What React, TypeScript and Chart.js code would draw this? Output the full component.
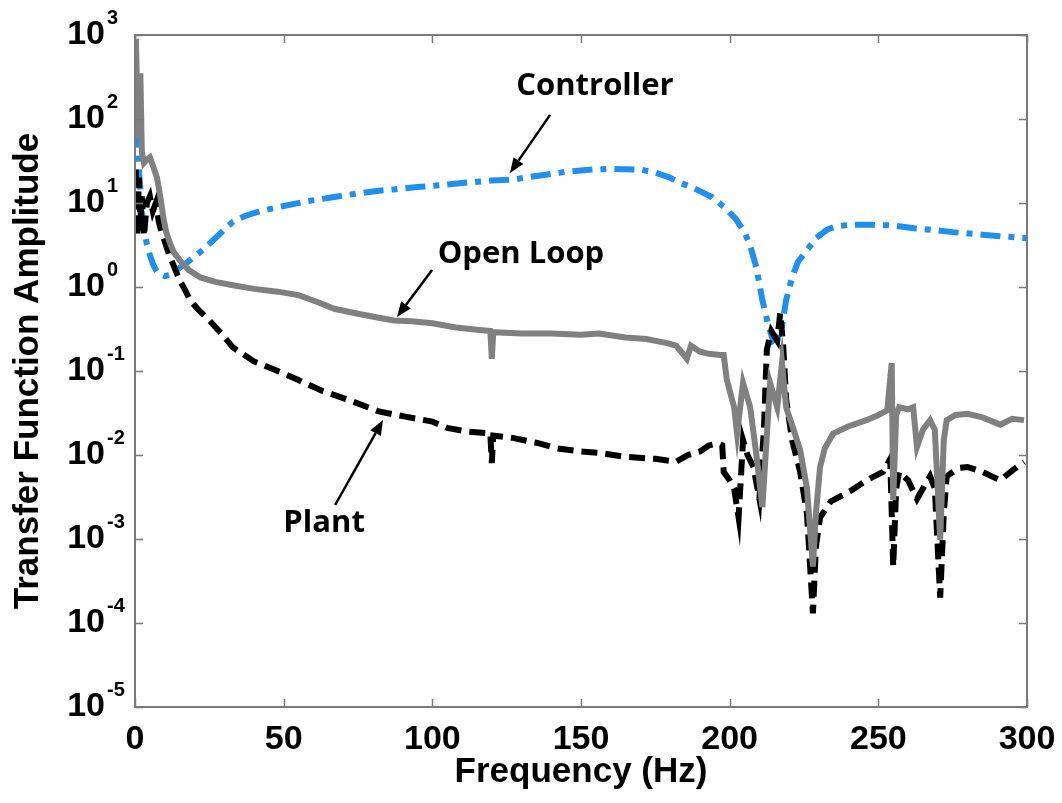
import React, { useEffect, useRef } from 'react';
import { Chart, registerables } from 'chart.js';

Chart.register(...registerables);

// ---------------- data ----------------
const ctrlFreq = [0.3, 0.8, 1.3, 1.8, 2.3, 3, 4, 5, 6, 7, 8, 10, 12, 14, 17, 20, 23, 27, 30, 33, 37, 42, 50, 58, 67, 75, 82, 87, 95, 100, 110, 120, 127, 135, 145, 154, 160, 170, 175, 180, 183, 188, 194, 198, 202, 205, 207, 209, 211, 213, 214.6, 216, 217.6, 219, 221, 223, 226, 229, 232.7, 236, 240.5, 248, 255, 262, 268, 275, 285, 292, 300];
const ctrlAmp = [250, 60, 25, 15, 8, 5, 3.2, 2.4, 1.9, 1.6, 1.45, 1.35, 1.4, 1.6, 1.9, 2.3, 2.8, 3.8, 4.8, 6.0, 7.0, 8.0, 9.2, 10.5, 11.8, 13, 14, 14.5, 15.5, 16, 17.3, 18.5, 19, 21, 23.5, 25, 25.5, 25, 23, 20, 17.6, 15, 11.8, 9, 6.5, 4.5, 3, 1.7, 0.7, 0.35, 0.23, 0.25, 0.34, 0.7, 1.3, 2.0, 2.75, 3.8, 4.8, 5.3, 5.5, 5.5, 5.4, 5.0, 4.8, 4.5, 4.2, 4.0, 3.8];

const openFreq = [0.3, 0.8, 1.3, 1.8, 2.3, 3, 4, 5, 6, 7.4, 8.5, 9.5, 10.5, 11.8, 13, 15, 18, 22, 27, 33, 40, 48, 55, 62, 67, 75, 82, 87, 93, 100, 108, 115, 119.5, 120, 120.5, 130, 140, 150, 156, 165, 172, 179, 182, 185.6, 187, 190, 193, 196.8, 198, 199, 200.5, 201.5, 202.5, 204.5, 206.9, 209, 211, 213.6, 216, 217.6, 219, 221.5, 223.7, 226, 228, 229, 230.4, 232, 234.8, 240, 246, 250, 253, 254.5, 255, 256, 257, 260, 261.7, 263, 265, 267.4, 269, 270.8, 272, 273, 276, 280, 285, 291, 295, 299];
const openAmp = [900, 150, 60, 350, 40, 30, 33, 35, 28, 20, 12, 6.8, 4.5, 3.3, 2.6, 2.1, 1.6, 1.3, 1.15, 1.05, 0.95, 0.88, 0.8, 0.65, 0.55, 0.48, 0.43, 0.4, 0.39, 0.37, 0.33, 0.31, 0.3, 0.14, 0.29, 0.28, 0.28, 0.27, 0.28, 0.25, 0.24, 0.215, 0.2, 0.14, 0.2, 0.17, 0.16, 0.155, 0.155, 0.08, 0.05, 0.037, 0.018, 0.072, 0.037, 0.01, 0.0024, 0.072, 0.037, 0.124, 0.037, 0.02, 0.0115, 0.004, 0.00047, 0.002, 0.0072, 0.012, 0.018, 0.022, 0.026, 0.03, 0.034, 0.124, 0.0029, 0.03, 0.037, 0.035, 0.037, 0.0125, 0.02, 0.026, 0.02, 0.00098, 0.015, 0.026, 0.03, 0.031, 0.028, 0.023, 0.027, 0.026];

const plantFreq = [0.3, 0.8, 1.3, 1.8, 2.3, 3, 4, 5, 6, 7, 8, 9, 10, 11.5, 13, 15, 17, 18.5, 21, 25, 29, 33, 40, 48, 55, 63, 72, 82, 90, 100, 105, 112, 119.5, 120, 120.5, 127, 135, 142, 150, 156, 165, 175, 182, 186, 190, 193, 195.7, 197.5, 198, 200, 201.5, 203, 204.5, 206, 208, 210, 211.5, 212.5, 214, 216, 217, 218, 219, 221, 223.7, 226, 228, 229, 230.4, 234, 240.5, 246, 251.6, 254, 255, 256, 257, 260, 263, 265, 267.4, 269, 270.8, 272, 273, 277, 280, 285, 291, 295, 299];
const plantAmp = [25, 4, 20, 6, 12, 4, 10, 12, 8, 10, 6, 4.4, 3.5, 2.4, 1.8, 1.2, 0.9, 0.7, 0.55, 0.4, 0.28, 0.19, 0.13, 0.1, 0.078, 0.058, 0.045, 0.033, 0.029, 0.025, 0.021, 0.019, 0.018, 0.008, 0.017, 0.016, 0.014, 0.012, 0.011, 0.0106, 0.0095, 0.009, 0.0083, 0.01, 0.011, 0.013, 0.0137, 0.013, 0.0063, 0.005, 0.004, 0.0018, 0.015, 0.01, 0.0072, 0.003, 0.02, 0.18, 0.3, 0.23, 0.49, 0.2, 0.046, 0.015, 0.0063, 0.002, 0.00013, 0.0008, 0.0018, 0.0028, 0.0037, 0.005, 0.0063, 0.009, 0.00047, 0.004, 0.0063, 0.005, 0.003, 0.004, 0.0056, 0.004, 0.0002, 0.002, 0.0056, 0.007, 0.0072, 0.0063, 0.005, 0.0065, 0.0083];

const xTickValues = [0, 50, 100, 150, 200, 250, 300];
const yTickExponents = [3, 2, 1, 0, -1, -2, -3, -4, -5];

// annotation labels and arrows, in data coordinates (Hz, amplitude)
const labelTexts = ['Controller', 'Open Loop', 'Plant'];
const labelFreq = [154.7, 129.8, 63.6];
const labelAmp = [193, 1.93, 0.00121];
const arrowFromFreq = [139.6, 99.9, 67.3];
const arrowFromAmp = [112, 1.59, 0.00254];
const arrowToFreq = [126.1, 88.1, 83.4];
const arrowToAmp = [22.8, 0.44, 0.0261];

const AXIS_FONT = "'Liberation Sans', Arial, sans-serif";
const FRAME_COLOR = '#7a7a7a';
const PLOT_AREA = { left: 135, top: 35, right: 1027, bottom: 707 };

const toPoints = (fs: number[], vs: number[]) => fs.map((f, i) => ({ x: f, y: vs[i] }));

const areaPlugin = {
  id: 'areaPlugin',
  afterLayout(chart: any) {
    const { left, top, right, bottom } = PLOT_AREA;
    const ca = chart.chartArea;
    ca.left = left; ca.top = top; ca.right = right; ca.bottom = bottom;
    ca.width = right - left; ca.height = bottom - top;
    const xs = chart.scales.x;
    const ys = chart.scales.y;
    xs.left = left; xs.right = right; xs.width = right - left;
    xs.top = bottom; xs.bottom = chart.height; xs.height = chart.height - bottom;
    ys.left = 0; ys.right = left; ys.width = left;
    ys.top = top; ys.bottom = bottom; ys.height = bottom - top;
    xs.configure();
    ys.configure();
  },
};

const framePlugin = {
  id: 'framePlugin',
  afterDraw(chart: any) {
    const { ctx, chartArea } = chart;
    const { left, right, top, bottom } = chartArea;
    const xs = chart.scales.x;
    const ys = chart.scales.y;
    ctx.save();
    ctx.strokeStyle = FRAME_COLOR;
    ctx.lineWidth = 2;
    ctx.strokeRect(left, top, right - left, bottom - top);
    const tl = 8;
    ctx.beginPath();
    xTickValues.forEach((t) => {
      const px = Math.round(xs.getPixelForValue(t)) + 0.5;
      ctx.moveTo(px, bottom);
      ctx.lineTo(px, bottom - tl);
      ctx.moveTo(px, top);
      ctx.lineTo(px, top + tl);
    });
    yTickExponents.forEach((e) => {
      const py = Math.round(ys.getPixelForValue(Math.pow(10, e))) + 0.5;
      ctx.moveTo(left, py);
      ctx.lineTo(left + tl, py);
      ctx.moveTo(right, py);
      ctx.lineTo(right - tl, py);
    });
    ctx.lineWidth = 1.5;
    ctx.stroke();

    ctx.fillStyle = '#000';
    ctx.font = `bold 20px ${AXIS_FONT}`;
    ctx.textAlign = 'left';
    ctx.textBaseline = 'middle';
    yTickExponents.forEach((e) => {
      const py = ys.getPixelForValue(Math.pow(10, e));
      ctx.fillText(String(e), left - 28, py - 17);
    });

    ctx.font = "bold 31px 'Open Sans', 'Noto Sans', sans-serif";
    ctx.textAlign = 'center';
    ctx.textBaseline = 'alphabetic';
    labelTexts.forEach((t, i) => {
      ctx.fillText(t, xs.getPixelForValue(labelFreq[i]), ys.getPixelForValue(labelAmp[i]));
    });
    ctx.strokeStyle = '#000';
    ctx.lineWidth = 2.5;
    labelTexts.forEach((_, i) => {
      const x0 = xs.getPixelForValue(arrowFromFreq[i]);
      const y0 = ys.getPixelForValue(arrowFromAmp[i]);
      const x1 = xs.getPixelForValue(arrowToFreq[i]);
      const y1 = ys.getPixelForValue(arrowToAmp[i]);
      const ang = Math.atan2(y1 - y0, x1 - x0);
      const hl = 15;
      const hw = 6;
      const bx = x1 - hl * Math.cos(ang);
      const by = y1 - hl * Math.sin(ang);
      ctx.beginPath();
      ctx.moveTo(x0, y0);
      ctx.lineTo(bx, by);
      ctx.stroke();
      ctx.beginPath();
      ctx.moveTo(x1, y1);
      ctx.lineTo(bx + hw * Math.sin(ang), by - hw * Math.cos(ang));
      ctx.lineTo(bx - hw * Math.sin(ang), by + hw * Math.cos(ang));
      ctx.closePath();
      ctx.fill();
    });
    ctx.restore();
  },
};

export default function App() {
  const canvasRef = useRef<HTMLCanvasElement | null>(null);

  useEffect(() => {
    const canvas = canvasRef.current;
    if (!canvas) return;
    const chart = new Chart(canvas, {
      type: 'line',
      data: {
        datasets: [
          {
            label: 'Open Loop',
            data: toPoints(openFreq, openAmp),
            borderColor: '#808080',
            borderWidth: 6,
            pointRadius: 0,
            tension: 0,
            order: 0,
          },
          {
            label: 'Plant',
            data: toPoints(plantFreq, plantAmp),
            borderColor: '#000000',
            borderWidth: 6,
            borderDash: [16, 8],
            pointRadius: 0,
            tension: 0,
            order: 1,
          },
          {
            label: 'Controller',
            data: toPoints(ctrlFreq, ctrlAmp),
            borderColor: '#1f8ff0',
            borderWidth: 6,
            borderDash: [20, 8, 6, 8],
            pointRadius: 0,
            tension: 0,
            order: 2,
          },
        ],
      },
      options: {
        responsive: false,
        animation: false,
        events: [],
        plugins: {
          legend: { display: false },
          tooltip: { enabled: false },
        },
        scales: {
          x: {
            type: 'linear',
            min: 0,
            max: 300,
            afterBuildTicks: (s: any) => {
              s.ticks = xTickValues.map((v) => ({ value: v }));
            },
            grid: { display: false, drawTicks: false },
            border: { display: false },
            ticks: {
              color: '#000',
              padding: 12,
              maxRotation: 0,
              font: { family: AXIS_FONT, size: 34, weight: 'bold' },
            },
            title: {
              display: true,
              text: 'Frequency (Hz)',
              color: '#000',
              padding: { top: 0, bottom: 10 },
              font: { family: AXIS_FONT, size: 35, weight: 'bold' },
            },
          },
          y: {
            type: 'logarithmic',
            min: 1e-5,
            max: 1e3,
            afterBuildTicks: (s: any) => {
              s.ticks = yTickExponents.map((e) => ({ value: Math.pow(10, e) }));
            },
            grid: { display: false, drawTicks: false },
            border: { display: false },
            ticks: {
              color: '#000',
              padding: 30,
              callback: () => '10',
              font: { family: AXIS_FONT, size: 34, weight: 'bold' },
            },
            title: {
              display: true,
              text: 'Transfer Function Amplitude',
              color: '#000',
              padding: { top: 7, bottom: 0 },
              font: { family: AXIS_FONT, size: 35, weight: 'bold' },
            },
          },
        },
      },
      plugins: [areaPlugin, framePlugin],
    } as any);
    return () => chart.destroy();
  }, []);

  return (
    <div style={{ position: 'absolute', left: 0, top: 0, width: 1062, height: 803, background: '#fff' }}>
      <canvas ref={canvasRef} width={1062} height={803} style={{ display: 'block' }} />
    </div>
  );
}
